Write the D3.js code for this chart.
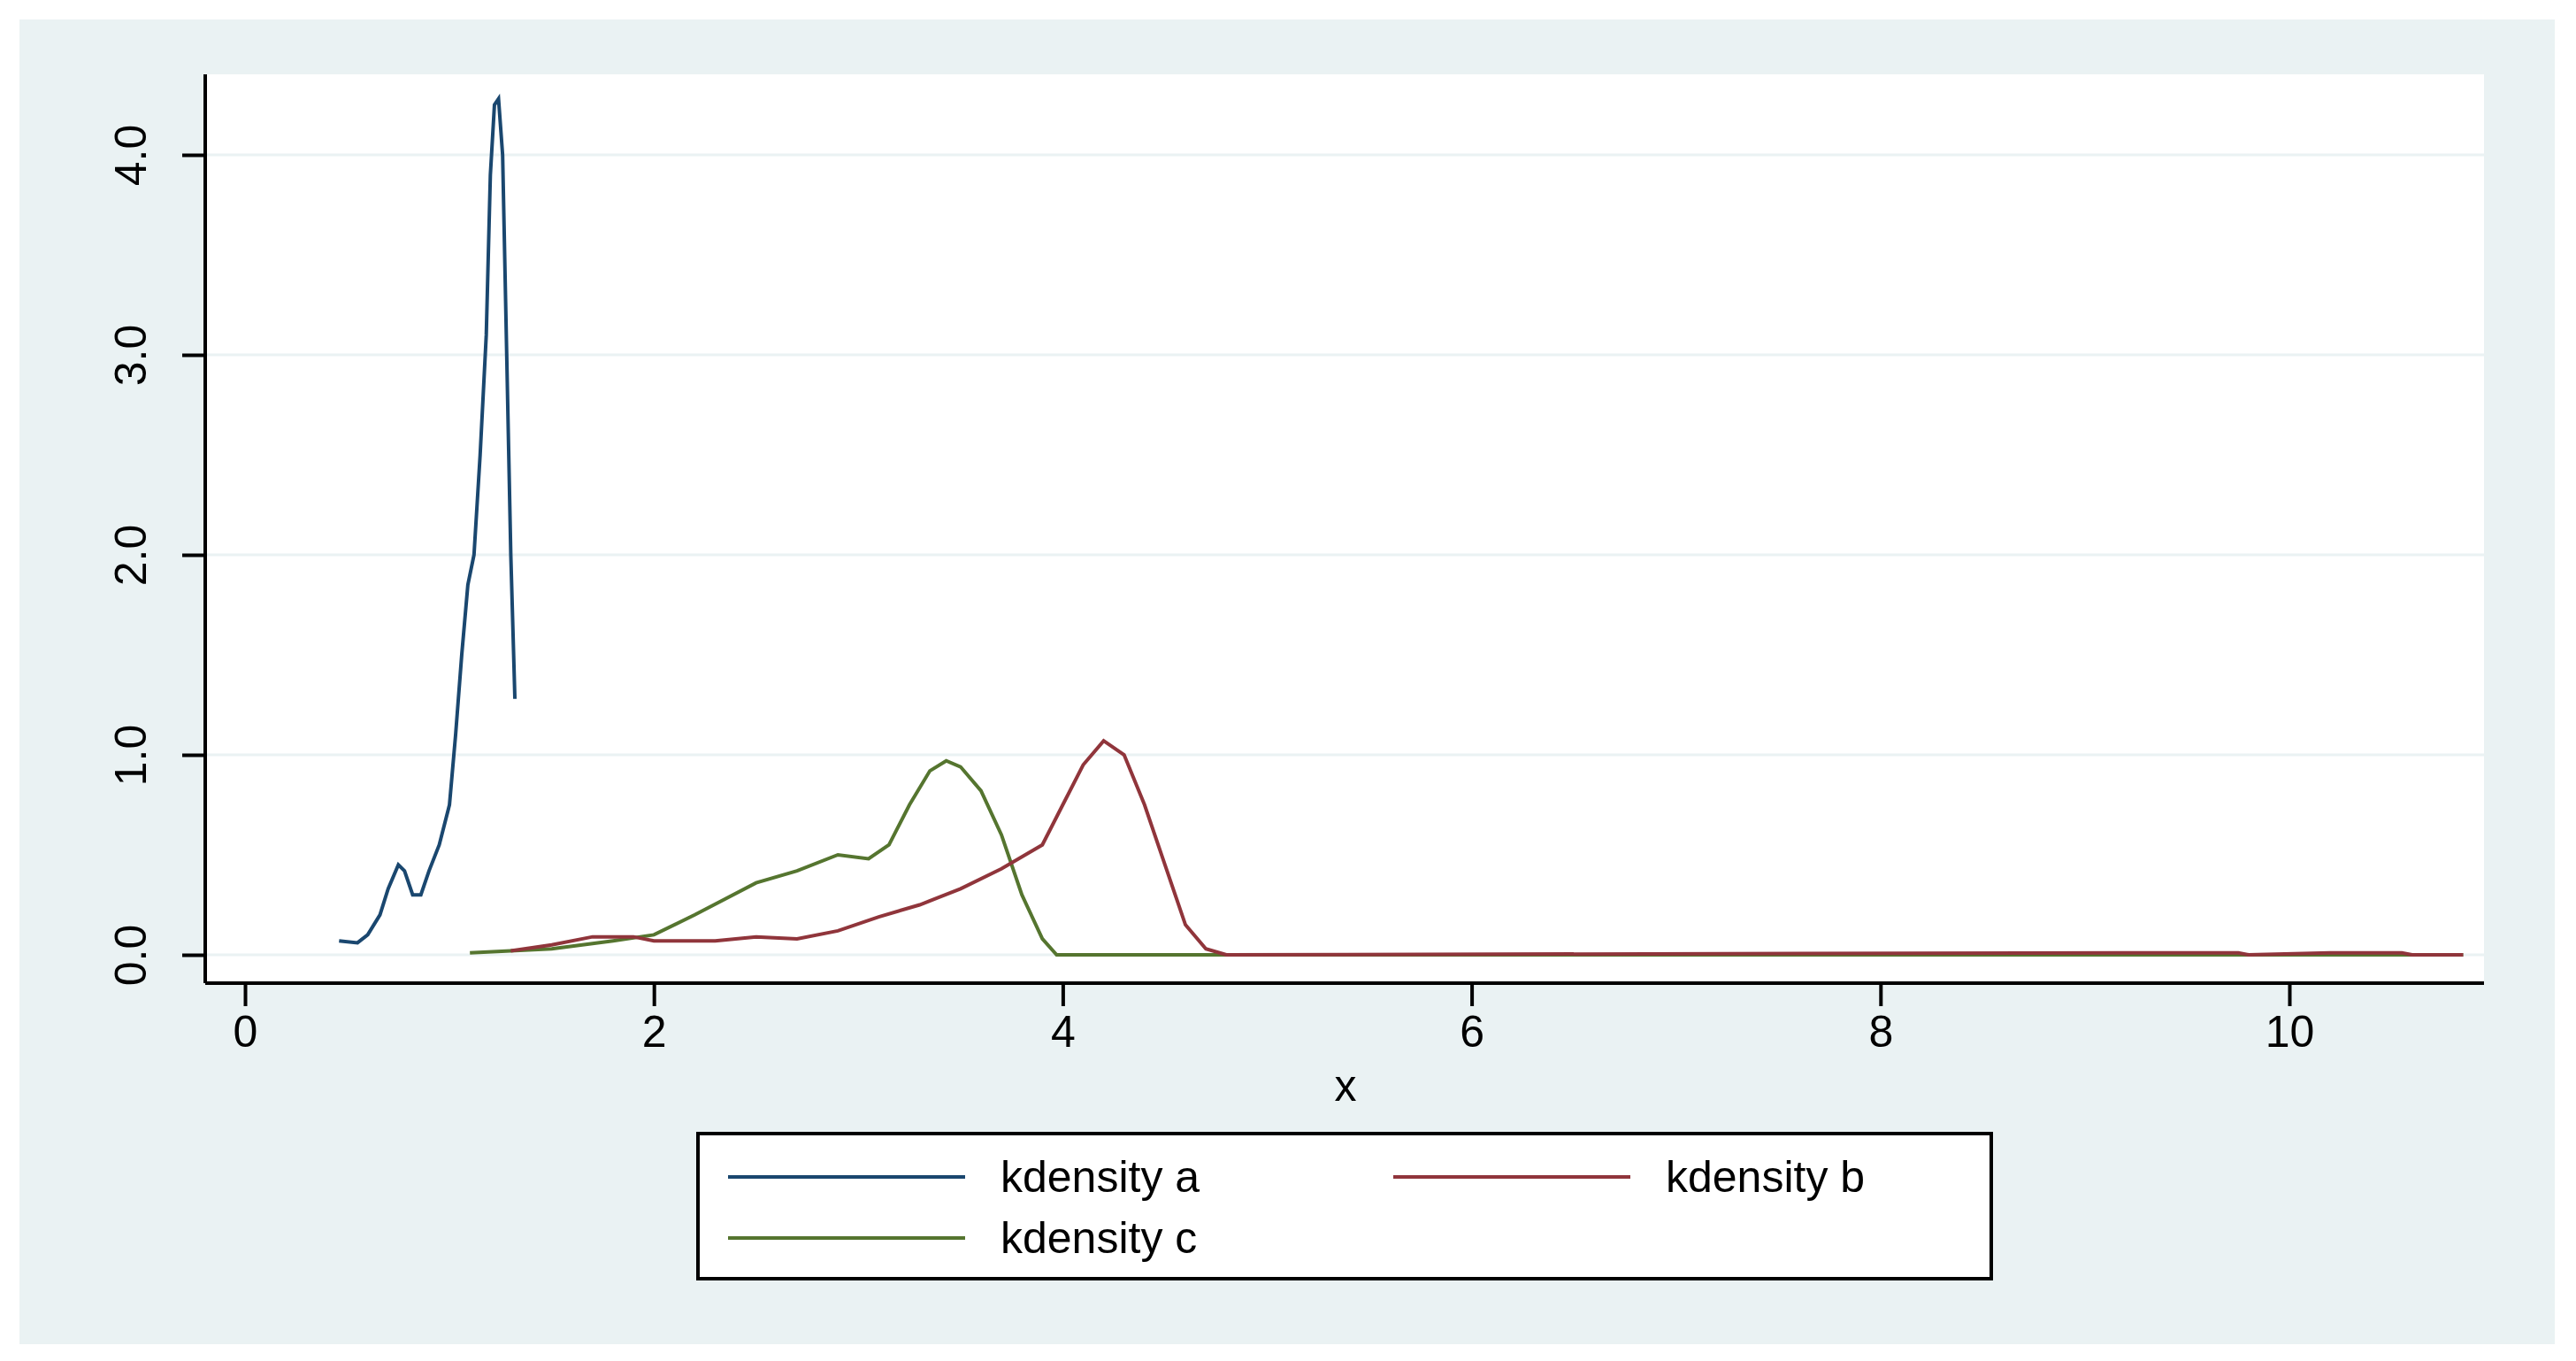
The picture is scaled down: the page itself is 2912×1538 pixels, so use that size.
<!DOCTYPE html>
<html>
<head>
<meta charset="utf-8">
<script src="https://d3js.org/d3.v7.min.js"></script>
<style>body{margin:0;background:#fff}</style>
</head>
<body>
<div id="chart"></div>
<script>
var seriesNames = ["kdensity a", "kdensity b", "kdensity c"];
var seriesColors = ["#1a476f", "#90353b", "#55752f"];
var ax = [0.46,0.55,0.6,0.66,0.7,0.75,0.78,0.82,0.86,0.9,0.95,1.0,1.03,1.06,1.09,1.12,1.15,1.18,1.2,1.22,1.24,1.26,1.28,1.3,1.32];
var ay = [0.07,0.06,0.1,0.2,0.33,0.45,0.42,0.3,0.3,0.42,0.55,0.75,1.1,1.5,1.85,2.0,2.5,3.1,3.9,4.25,4.28,4.0,3.0,2.0,1.28];
var bx = [1.3,1.5,1.7,1.9,2.0,2.3,2.5,2.7,2.9,3.1,3.3,3.5,3.7,3.9,4.0,4.1,4.2,4.3,4.4,4.5,4.6,4.7,4.8,9.2,9.75,9.8,10.2,10.55,10.6,10.85];
var by = [0.02,0.05,0.09,0.09,0.07,0.07,0.09,0.08,0.12,0.19,0.25,0.33,0.43,0.55,0.75,0.95,1.07,1.0,0.75,0.45,0.15,0.03,0.0,0.01,0.01,0.0,0.01,0.01,0.0,0.0];
var cx = [1.1,1.5,1.8,2.0,2.2,2.5,2.7,2.9,3.05,3.15,3.25,3.35,3.43,3.5,3.6,3.7,3.8,3.9,3.97,10.85];
var cy = [0.01,0.03,0.07,0.1,0.2,0.36,0.42,0.5,0.48,0.55,0.75,0.92,0.97,0.94,0.82,0.6,0.3,0.08,0.0,0.0];
var xTicks = [0,2,4,6,8,10];
var yTicks = [0,1,2,3,4];

var W = 2912, H = 1538;
var svg = d3.select("#chart").append("svg").attr("width", W).attr("height", H);
svg.append("rect").attr("x",22).attr("y",22).attr("width",2866).attr("height",1497).attr("fill","#eaf2f3");
var L = 232, R = 2808, T = 84, B = 1111;
svg.append("rect").attr("x",L).attr("y",T).attr("width",R-L).attr("height",B-T).attr("fill","#fff");

var x = d3.scaleLinear().domain([0,10]).range([277,2588]);
var y = d3.scaleLinear().domain([0,4]).range([1079,175]);

// grid
svg.selectAll(".grid").data(yTicks).enter().append("line")
  .attr("x1",L).attr("x2",R).attr("y1",d=>y(d)).attr("y2",d=>y(d))
  .attr("stroke","#eaf2f3").attr("stroke-width",3);

var gx = svg.append("g").attr("transform","translate(0,"+B+")")
  .call(d3.axisBottom(x).tickValues(xTicks).tickSize(26).tickPadding(10).tickSizeOuter(0));
gx.select(".domain").attr("d","M"+L+",0H"+R).attr("stroke-width",4);
gx.selectAll(".tick line").attr("stroke-width",4);
gx.selectAll("text").attr("font-family","Arial, Liberation Sans").attr("font-size",50).attr("fill","#000");

var gy = svg.append("g").attr("transform","translate("+L+",0)")
  .call(d3.axisLeft(y).tickValues(yTicks).tickSize(26).tickSizeOuter(0));
gy.select(".domain").attr("d","M0,"+T+"V"+B).attr("stroke-width",4);
gy.selectAll(".tick line").attr("stroke-width",4);
gy.selectAll("text").attr("font-family","Arial, Liberation Sans").attr("font-size",50).attr("fill","#000")
  .attr("x",0).attr("dy",0).attr("text-anchor","middle")
  .attr("transform","translate(-80,0) rotate(-90)").attr("dominant-baseline","middle");

svg.append("text").attr("x",1521).attr("y",1244).attr("text-anchor","middle")
  .attr("font-family","Arial, Liberation Sans").attr("font-size",50).text("x");

var line = d3.line().x(d=>x(d[0])).y(d=>y(d[1]));
var data = [d3.zip(ax,ay), d3.zip(bx,by), d3.zip(cx,cy)];
[2,1,0].forEach(function(i){
  svg.append("path").attr("d",line(data[i])).attr("fill","none")
    .attr("stroke",seriesColors[i]).attr("stroke-width",4);
});

// legend
svg.append("rect").attr("x",789).attr("y",1281).attr("width",1462).attr("height",164)
  .attr("fill","#fff").attr("stroke","#000").attr("stroke-width",4);
var legPos = [[823,1330],[1575,1330],[823,1399]];
legPos.forEach(function(p,i){
  svg.append("line").attr("x1",p[0]).attr("x2",p[0]+268).attr("y1",p[1]).attr("y2",p[1])
    .attr("stroke",seriesColors[i]).attr("stroke-width",4);
  svg.append("text").attr("x",p[0]+308).attr("y",p[1]+17)
    .attr("font-family","Arial, Liberation Sans").attr("font-size",50).text(seriesNames[i]);
});
</script>
</body>
</html>
